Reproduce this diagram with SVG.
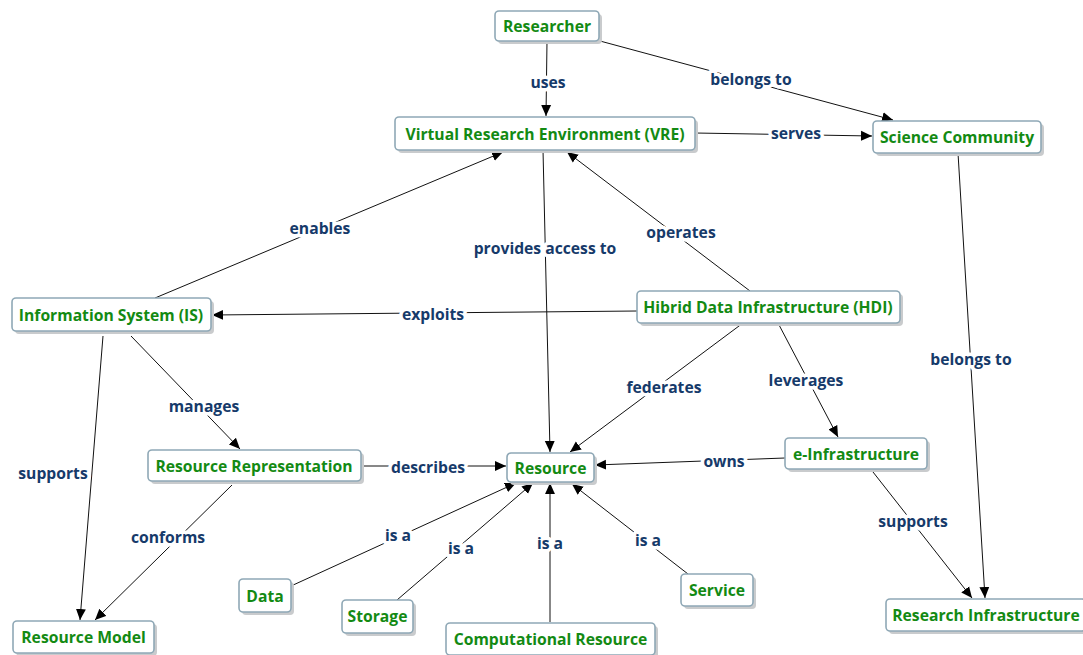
<svg xmlns="http://www.w3.org/2000/svg" width="1083" height="655" viewBox="0 0 1083 655">
<style>
.box{fill:#fff;stroke:#8fa8b6;stroke-width:1.6}
.sh{fill:#c9cbcd}
.nt{font-family:"Open Sans",Lato,sans-serif;font-weight:bold;font-size:15.7px;fill:#138a13;text-anchor:middle;dominant-baseline:central}
.e{stroke:#111;stroke-width:1;fill:none;marker-end:url(#ah)}
.lb{font-family:"Open Sans",Lato,sans-serif;font-weight:bold;font-size:15.7px;fill:#163a6a;text-anchor:middle;dominant-baseline:central;paint-order:stroke;stroke:#fff;stroke-width:7px;stroke-linejoin:round}
</style>
<defs>
<marker id="ah" viewBox="0 0 10 10" refX="10" refY="5" markerWidth="11" markerHeight="11" markerUnits="userSpaceOnUse" orient="auto">
<path d="M0,0.5 L10,5 L0,9.5 Z" fill="#000"/>
</marker>
</defs>
<rect width="1083" height="655" fill="#fff"/>
<g id="connectors">
<path class="e" d="M547,41 L546,116"/>
<path class="e" d="M600,41 L893,120"/>
<path class="e" d="M695,133 L872,136"/>
<path class="e" d="M155,298 L503,152"/>
<path class="e" d="M543,150 L550,452"/>
<path class="e" d="M750,291 L567,152"/>
<path class="e" d="M637,311 L212,315"/>
<path class="e" d="M958,153 L985,598"/>
<path class="e" d="M743,323 L570,452"/>
<path class="e" d="M778,323 L838,437"/>
<path class="e" d="M131,336 L240,449"/>
<path class="e" d="M103,336 L80,620"/>
<path class="e" d="M361,466 L506,466"/>
<path class="e" d="M785,458 L595,465"/>
<path class="e" d="M232,485 L95,620"/>
<path class="e" d="M873,472 L972,598"/>
<path class="e" d="M291,586 L516,483"/>
<path class="e" d="M397,600 L533,483"/>
<path class="e" d="M550,622 L550,483"/>
<path class="e" d="M688,574 L572,484"/>
<text class="lb" x="548" y="82">uses</text>
<text class="lb" x="751" y="79">belongs to</text>
<text class="lb" x="796" y="133">serves</text>
<text class="lb" x="320" y="228">enables</text>
<text class="lb" x="545" y="248">provides access to</text>
<text class="lb" x="681" y="232">operates</text>
<text class="lb" x="433" y="314">exploits</text>
<text class="lb" x="971" y="359">belongs to</text>
<text class="lb" x="664" y="387">federates</text>
<text class="lb" x="806" y="380">leverages</text>
<text class="lb" x="204" y="406">manages</text>
<text class="lb" x="53" y="473">supports</text>
<text class="lb" x="428" y="467">describes</text>
<text class="lb" x="724" y="461">owns</text>
<text class="lb" x="168" y="537">conforms</text>
<text class="lb" x="913" y="521">supports</text>
<text class="lb" x="398" y="535">is a</text>
<text class="lb" x="461" y="548">is a</text>
<text class="lb" x="550" y="543">is a</text>
<text class="lb" x="648" y="540">is a</text>
</g>
<g id="researcher"><rect class="sh" x="498" y="14" width="104" height="30" rx="4"/><rect class="box" x="495" y="11" width="104" height="30" rx="4"/><text class="nt" x="547" y="26">Researcher</text></g>
<g id="vre"><rect class="sh" x="398" y="120" width="300" height="33" rx="4"/><rect class="box" x="395" y="117" width="300" height="33" rx="4"/><text class="nt" x="545" y="133.5">Virtual Research Environment (VRE)</text></g>
<g id="science-community"><rect class="sh" x="876" y="124" width="168" height="32" rx="4"/><rect class="box" x="873" y="121" width="168" height="32" rx="4"/><text class="nt" x="957" y="137">Science Community</text></g>
<g id="information-system"><rect class="sh" x="15" y="301" width="199" height="33" rx="4"/><rect class="box" x="12" y="298" width="199" height="33" rx="4"/><text class="nt" x="111" y="314.5">Information System (IS)</text></g>
<g id="hdi"><rect class="sh" x="640" y="294" width="263" height="32" rx="4"/><rect class="box" x="637" y="291" width="263" height="32" rx="4"/><text class="nt" x="768" y="307">Hibrid Data Infrastructure (HDI)</text></g>
<g id="resource-representation"><rect class="sh" x="151" y="453" width="213" height="31" rx="4"/><rect class="box" x="148" y="450" width="213" height="31" rx="4"/><text class="nt" x="254" y="465.5">Resource Representation</text></g>
<g id="resource"><rect class="sh" x="510" y="456" width="87" height="29" rx="4"/><rect class="box" x="507" y="453" width="87" height="29" rx="4"/><text class="nt" x="550.5" y="467.5">Resource</text></g>
<g id="e-infrastructure"><rect class="sh" x="788" y="441" width="142" height="31" rx="4"/><rect class="box" x="785" y="438" width="142" height="31" rx="4"/><text class="nt" x="856" y="453.5">e-Infrastructure</text></g>
<g id="data"><rect class="sh" x="242" y="582" width="52" height="33" rx="4"/><rect class="box" x="239" y="579" width="52" height="33" rx="4"/><text class="nt" x="265" y="596">Data</text></g>
<g id="storage"><rect class="sh" x="345" y="603" width="71" height="33" rx="4"/><rect class="box" x="342" y="600" width="71" height="33" rx="4"/><text class="nt" x="377.5" y="616">Storage</text></g>
<g id="computational-resource"><rect class="sh" x="449" y="626" width="209" height="32" rx="4"/><rect class="box" x="446" y="623" width="209" height="32" rx="4"/><text class="nt" x="550.5" y="638.5">Computational Resource</text></g>
<g id="service"><rect class="sh" x="684" y="577" width="72" height="32" rx="4"/><rect class="box" x="681" y="574" width="72" height="32" rx="4"/><text class="nt" x="717" y="590">Service</text></g>
<g id="research-infrastructure"><rect class="sh" x="889" y="602" width="200" height="32" rx="4"/><rect class="box" x="886" y="599" width="200" height="32" rx="4"/><text class="nt" x="986" y="615">Research Infrastructure</text></g>
<g id="resource-model"><rect class="sh" x="16" y="624" width="141" height="32" rx="4"/><rect class="box" x="13" y="621" width="141" height="32" rx="4"/><text class="nt" x="83.5" y="637">Resource Model</text></g>
</svg>
